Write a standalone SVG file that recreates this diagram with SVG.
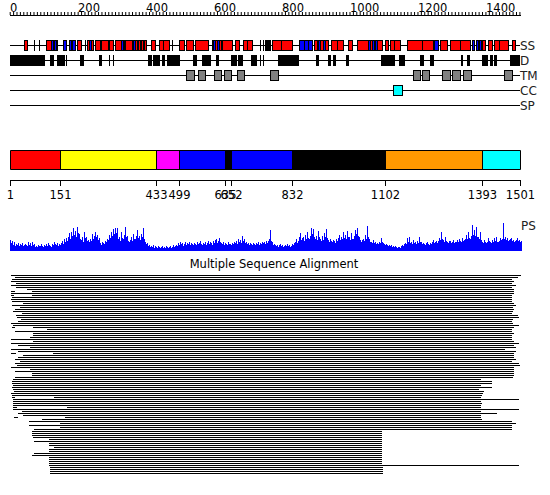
<svg xmlns="http://www.w3.org/2000/svg" width="550" height="495" viewBox="0 0 550 495">
<style>
text{font-family:"DejaVu Sans","Liberation Sans",sans-serif;font-size:11.5px;fill:#000}
.tl{font-size:12px;fill:#222}
.r{fill:#f00;stroke:#000;stroke-width:1}
.b{fill:#00f;stroke:#000;stroke-width:1}
.k{fill:#000;stroke:#000;stroke-width:1}
.g{fill:#808080;stroke:#000;stroke-width:1}
.ln{stroke:#000;stroke-width:1;fill:none}
</style>
<rect width="550" height="495" fill="#fff"/>
<g id="ruler">
<path class="ln" d="M10 15.5H521"/>
<path d="M9.7 13.5H521" stroke="#000" stroke-width="3" stroke-dasharray="1 2.398"/>
<text x="10" y="12">0</text>
<text x="78" y="12">200</text>
<text x="146" y="12">400</text>
<text x="214" y="12">600</text>
<text x="282" y="12">800</text>
<text x="350" y="12">1000</text>
<text x="418" y="12">1200</text>
<text x="486" y="12">1400</text>
</g>
<g id="tracks">
<path class="ln" d="M10 45.5H520M10 60.5H520M10 75.5H520M10 90.5H520M10 105.5H520"/>
<text class="tl" x="520" y="50">SS</text>
<text class="tl" x="520" y="65">D</text>
<text class="tl" x="520" y="80">TM</text>
<text class="tl" x="520" y="95">CC</text>
<text class="tl" x="520" y="110">SP</text>
</g>
<g id="ss">
<rect class="r" x="24.5" y="40.5" width="3" height="10"/>
<rect class="r" x="46.5" y="40.5" width="11" height="10"/>
<rect class="r" x="77.5" y="40.5" width="4" height="10"/>
<rect class="r" x="87.5" y="40.5" width="6" height="10"/>
<rect class="r" x="95.5" y="40.5" width="5" height="10"/>
<rect class="r" x="101.5" y="40.5" width="7" height="10"/>
<rect class="r" x="109.5" y="40.5" width="4" height="10"/>
<rect class="r" x="115.5" y="40.5" width="9" height="10"/>
<rect class="r" x="125.5" y="40.5" width="7" height="10"/>
<rect class="r" x="132.5" y="40.5" width="14" height="10"/>
<rect class="r" x="151.5" y="40.5" width="4" height="10"/>
<rect class="r" x="159.5" y="40.5" width="10" height="10"/>
<rect class="r" x="179.5" y="40.5" width="5" height="10"/>
<rect class="r" x="186.5" y="40.5" width="7" height="10"/>
<rect class="r" x="195.5" y="40.5" width="13" height="10"/>
<rect class="r" x="212.5" y="40.5" width="9" height="10"/>
<rect class="r" x="222.5" y="40.5" width="10" height="10"/>
<rect class="r" x="235.5" y="40.5" width="4" height="10"/>
<rect class="r" x="243.5" y="40.5" width="9" height="10"/>
<rect class="k" x="265.5" y="40.5" width="5" height="10"/>
<rect class="r" x="272.5" y="40.5" width="20" height="10"/>
<rect class="r" x="314.5" y="40.5" width="3" height="10"/>
<rect class="r" x="318.5" y="40.5" width="10" height="10"/>
<rect class="r" x="331.5" y="40.5" width="12" height="10"/>
<rect class="r" x="348.5" y="40.5" width="4" height="10"/>
<rect class="r" x="357.5" y="40.5" width="25" height="10"/>
<rect class="r" x="385.5" y="40.5" width="3" height="10"/>
<rect class="r" x="390.5" y="40.5" width="10" height="10"/>
<rect class="r" x="407.5" y="40.5" width="15" height="10"/>
<rect class="r" x="422.5" y="40.5" width="11" height="10"/>
<rect class="r" x="440.5" y="40.5" width="7" height="10"/>
<rect class="r" x="450.5" y="40.5" width="20" height="10"/>
<rect class="r" x="482.5" y="40.5" width="3" height="10"/>
<rect class="r" x="488.5" y="40.5" width="4" height="10"/>
<rect class="r" x="494.5" y="40.5" width="14" height="10"/>
<rect class="r" x="512.5" y="40.5" width="3" height="10"/>
<rect class="b" x="51.5" y="40.5" width="2" height="10"/>
<rect class="b" x="54.5" y="40.5" width="2" height="10"/>
<rect class="b" x="63.5" y="40.5" width="3" height="10"/>
<rect class="b" x="69.5" y="40.5" width="2" height="10"/>
<rect class="b" x="72.5" y="40.5" width="3" height="10"/>
<rect class="b" x="89.5" y="40.5" width="2" height="10"/>
<rect class="b" x="121.5" y="40.5" width="2" height="10"/>
<rect class="b" x="133.5" y="40.5" width="2" height="10"/>
<rect class="b" x="137.5" y="40.5" width="1" height="10"/>
<rect class="b" x="140.5" y="40.5" width="1" height="10"/>
<rect class="b" x="213.5" y="40.5" width="2" height="10"/>
<rect class="b" x="217.5" y="40.5" width="2" height="10"/>
<rect class="b" x="299.5" y="40.5" width="5" height="10"/>
<rect class="b" x="304.5" y="40.5" width="4" height="10"/>
<rect class="b" x="308.5" y="40.5" width="4" height="10"/>
<rect class="b" x="318.5" y="40.5" width="2" height="10"/>
<rect class="b" x="323.5" y="40.5" width="2" height="10"/>
<rect class="b" x="368.5" y="40.5" width="2" height="10"/>
<rect class="b" x="372.5" y="40.5" width="2" height="10"/>
<rect class="b" x="375.5" y="40.5" width="2" height="10"/>
<rect class="b" x="434.5" y="40.5" width="4" height="10"/>
<rect class="b" x="472.5" y="40.5" width="2" height="10"/>
<rect class="b" x="476.5" y="40.5" width="2" height="10"/>
<rect class="b" x="479.5" y="40.5" width="2" height="10"/>
<path class="ln" d="M34.5 40V51M39.5 40V51M85.5 40V51M172.5 40V51M260.5 40V51M263.5 40V51M143.5 40V51M144.5 40V51M163.5 40V51M247.5 40V51M281.5 40V51M337.5 40V51M394.5 40V51M460.5 40V51M499.5 40V51"/>
</g>
<g id="d">
<rect class="k" x="10.5" y="55.5" width="16" height="10"/>
<rect class="k" x="27.5" y="55.5" width="17" height="10"/>
<rect class="k" x="50.5" y="55.5" width="3" height="10"/>
<rect class="k" x="57.5" y="55.5" width="7" height="10"/>
<rect class="k" x="80.5" y="55.5" width="3" height="10"/>
<rect class="k" x="99.5" y="55.5" width="2" height="10"/>
<rect class="k" x="148.5" y="55.5" width="3" height="10"/>
<rect class="k" x="153.5" y="55.5" width="6" height="10"/>
<rect class="k" x="162.5" y="55.5" width="2" height="10"/>
<rect class="k" x="167.5" y="55.5" width="12" height="10"/>
<rect class="k" x="193.5" y="55.5" width="3" height="10"/>
<rect class="k" x="202.5" y="55.5" width="5" height="10"/>
<rect class="k" x="208.5" y="55.5" width="2" height="10"/>
<rect class="k" x="216.5" y="55.5" width="2" height="10"/>
<rect class="k" x="231.5" y="55.5" width="5" height="10"/>
<rect class="k" x="238.5" y="55.5" width="4" height="10"/>
<rect class="k" x="251.5" y="55.5" width="5" height="10"/>
<rect class="k" x="278.5" y="55.5" width="20" height="10"/>
<rect class="k" x="316.5" y="55.5" width="2" height="10"/>
<rect class="k" x="328.5" y="55.5" width="2" height="10"/>
<rect class="k" x="333.5" y="55.5" width="2" height="10"/>
<rect class="k" x="346.5" y="55.5" width="2" height="10"/>
<rect class="k" x="381.5" y="55.5" width="13" height="10"/>
<rect class="k" x="399.5" y="55.5" width="5" height="10"/>
<rect class="k" x="420.5" y="55.5" width="3" height="10"/>
<rect class="k" x="430.5" y="55.5" width="3" height="10"/>
<rect class="k" x="461.5" y="55.5" width="1" height="10"/>
<rect class="k" x="467.5" y="55.5" width="2" height="10"/>
<rect class="k" x="482.5" y="55.5" width="5" height="10"/>
<rect class="k" x="490.5" y="55.5" width="2" height="10"/>
<rect class="k" x="494.5" y="55.5" width="2" height="10"/>
<rect class="k" x="510.5" y="55.5" width="9" height="10"/>
<path class="ln" d="M66.5 55V66M109.5 55V66M113.5 55V66M260.5 55V66M263.5 55V66"/>
</g>
<g id="tm">
<rect class="g" x="186.5" y="70.5" width="8" height="10"/>
<rect class="g" x="198.5" y="70.5" width="7" height="10"/>
<rect class="g" x="214.5" y="70.5" width="7" height="10"/>
<rect class="g" x="224.5" y="70.5" width="7" height="10"/>
<rect class="g" x="237.5" y="70.5" width="7" height="10"/>
<rect class="g" x="270.5" y="70.5" width="8" height="10"/>
<rect class="g" x="413.5" y="70.5" width="7" height="10"/>
<rect class="g" x="422.5" y="70.5" width="7" height="10"/>
<rect class="g" x="442.5" y="70.5" width="8" height="10"/>
<rect class="g" x="452.5" y="70.5" width="8" height="10"/>
<rect class="g" x="463.5" y="70.5" width="8" height="10"/>
<rect class="g" x="504.5" y="70.5" width="8" height="10"/>
</g>
<g id="cc">
<rect x="393.5" y="85.5" width="9" height="10" fill="#0ff" stroke="#000"/>
</g>
<g id="domains">
<rect x="10.5" y="150.5" width="50" height="19" fill="#f00"/>
<rect x="60.5" y="150.5" width="96" height="19" fill="#ff0"/>
<rect x="156.5" y="150.5" width="23" height="19" fill="#f0f"/>
<rect x="179.5" y="150.5" width="46" height="19" fill="#00f"/>
<rect x="225.5" y="150.5" width="6" height="19" fill="#000"/>
<rect x="231.5" y="150.5" width="61" height="19" fill="#00f"/>
<rect x="292.5" y="150.5" width="93" height="19" fill="#000"/>
<rect x="385.5" y="150.5" width="97" height="19" fill="#f90"/>
<rect x="482.5" y="150.5" width="38" height="19" fill="#0ff"/>
<path class="ln" d="M10.5 150.5H520.5V169.5H10.5ZM60.5 150V170M156.5 150V170M179.5 150V170M225.5 150V170M231.5 150V170M292.5 150V170M385.5 150V170M482.5 150V170"/>
<path class="ln" d="M10 180.5H521M10.5 180V186M60.5 180V186M156.5 180V186M179.5 180V186M225.5 180V186M231.5 180V186M292.5 180V186M385.5 180V186M482.5 180V186M520.5 180V186"/>
<g text-anchor="middle">
<text x="10.5" y="199">1</text>
<text x="60.5" y="199">151</text>
<text x="156.5" y="199">433</text>
<text x="179.5" y="199">499</text>
<text x="225.5" y="199">635</text>
<text x="231.5" y="199">652</text>
<text x="292.5" y="199">832</text>
<text x="385.5" y="199">1102</text>
<text x="482.5" y="199">1393</text>
<text x="520.5" y="199">1501</text>
</g>
</g>
<g id="ps">
<path fill="#00f" d="M10 251V240h1V243h1V241h1V245h1V242h1V246h1V244h1V245h1V243h1V246h1V244h1V245h1V243h1V246h1V245h1V244h1V245h1V246h1V242h1V245h1V243h1V246h1V242h1V245h1V244h1V247h1V246h1V247h1V245h1V246h1V246h1V244h1V246h1V247h1V245h1V246h1V244h1V246h1V243h1V245h1V246h1V247h1V244h1V245h1V242h1V244h1V245h1V243h1V246h1V244h1V245h1V243h1V241h1V244h1V239h1V242h1V238h1V241h1V237h1V233h1V239h1V232h1V236h1V228h1V235h1V231h1V237h1V227h1V233h1V234h1V239h1V240h1V237h1V242h1V232h1V238h1V237h1V241h1V240h1V242h1V239h1V241h1V234h1V239h1V236h1V232h1V237h1V235h1V240h1V238h1V243h1V245h1V242h1V243h1V244h1V241h1V242h1V239h1V240h1V235h1V238h1V232h1V236h1V229h1V234h1V228h1V233h1V228h1V239h1V237h1V241h1V232h1V238h1V239h1V235h1V227h1V237h1V236h1V241h1V242h1V240h1V237h1V241h1V234h1V239h1V239h1V236h1V230h1V238h1V236h1V240h1V234h1V237h1V228h1V239h1V242h1V244h1V243h1V246h1V245h1V247h1V246h1V247h1V245h1V248h1V246h1V247h1V248h1V246h1V247h1V248h1V247h1V246h1V248h1V247h1V248h1V246h1V247h1V248h1V247h1V246h1V248h1V247h1V245h1V247h1V246h1V245h1V246h1V243h1V245h1V242h1V244h1V243h1V246h1V244h1V242h1V245h1V243h1V244h1V242h1V245h1V243h1V244h1V245h1V243h1V244h1V245h1V242h1V244h1V243h1V241h1V244h1V245h1V243h1V244h1V242h1V245h1V243h1V241h1V244h1V242h1V243h1V245h1V241h1V243h1V240h1V239h1V243h1V241h1V238h1V242h1V243h1V244h1V242h1V245h1V243h1V244h1V245h1V242h1V244h1V244h1V245h1V243h1V244h1V242h1V243h1V241h1V244h1V239h1V242h1V240h1V243h1V236h1V241h1V239h1V243h1V242h1V244h1V243h1V245h1V243h1V244h1V245h1V243h1V244h1V245h1V243h1V244h1V242h1V245h1V243h1V244h1V242h1V243h1V242h1V244h1V241h1V243h1V241h1V239h1V230h1V241h1V242h1V245h1V244h1V245h1V246h1V245h1V247h1V245h1V244h1V246h1V245h1V247h1V246h1V245h1V246h1V244h1V246h1V245h1V247h1V246h1V244h1V245h1V243h1V242h1V239h1V243h1V241h1V237h1V233h1V240h1V238h1V237h1V241h1V235h1V239h1V232h1V238h1V239h1V236h1V228h1V234h1V229h1V237h1V239h1V236h1V240h1V231h1V237h1V239h1V241h1V236h1V240h1V233h1V237h1V229h1V238h1V240h1V242h1V239h1V241h1V242h1V240h1V241h1V243h1V239h1V241h1V238h1V235h1V240h1V237h1V239h1V232h1V238h1V235h1V239h1V231h1V237h1V237h1V240h1V233h1V239h1V239h1V236h1V230h1V234h1V228h1V236h1V237h1V240h1V242h1V240h1V239h1V241h1V235h1V239h1V226h1V237h1V239h1V242h1V242h1V243h1V240h1V243h1V242h1V244h1V243h1V244h1V242h1V243h1V238h1V242h1V243h1V244h1V245h1V244h1V245h1V246h1V245h1V246h1V245h1V247h1V246h1V247h1V246h1V247h1V248h1V247h1V247h1V248h1V246h1V245h1V246h1V244h1V243h1V244h1V238h1V242h1V237h1V243h1V242h1V244h1V240h1V243h1V242h1V244h1V241h1V243h1V237h1V242h1V242h1V244h1V243h1V244h1V245h1V243h1V242h1V244h1V245h1V243h1V244h1V242h1V240h1V243h1V242h1V241h1V243h1V241h1V238h1V240h1V232h1V239h1V240h1V242h1V237h1V241h1V242h1V243h1V241h1V241h1V243h1V242h1V240h1V243h1V242h1V242h1V240h1V242h1V239h1V241h1V242h1V238h1V241h1V240h1V239h1V235h1V239h1V232h1V238h1V239h1V236h1V225h1V235h1V230h1V236h1V227h1V237h1V237h1V239h1V232h1V240h1V242h1V243h1V240h1V242h1V243h1V242h1V238h1V241h1V242h1V243h1V240h1V242h1V238h1V241h1V237h1V242h1V242h1V241h1V238h1V240h1V239h1V223h1V239h1V237h1V240h1V238h1V241h1V240h1V239h1V238h1V241h1V240h1V242h1V241h1V240h1V238h1V241h1V240h1V242h1V241h1V251Z"/>
<text class="tl" x="521" y="230">PS</text>
</g>
<g id="msa">
<text x="274" y="268" text-anchor="middle">Multiple Sequence Alignment</text>
<path stroke="#000" stroke-width="1" shape-rendering="crispEdges" fill="none" d="M11 275.5H521M15 277.5H518M12 279.5H512M11 281.5H514M16 283.5H512M11 285.5H516M16 287.5H512M27 289.5H514M32 291.5H514M11 293.5H514M32 295.5H512M12 297.5H512M11 299.5H512M12 301.5H512M23 303.5H514M12 305.5H516M20 307.5H513M15 309.5H514M13 311.5H513M22 313.5H512M16 315.5H518M17 317.5H519M21 319.5H513M18 321.5H512M11 323.5H513M13 325.5H519M33 327.5H514M47 329.5H512M15 331.5H512M33 333.5H514M33 335.5H512M30 337.5H512M11 339.5H512M33 341.5H514M11 343.5H519M18 345.5H514M30 347.5H516M11 349.5H505M18 351.5H516M53 353.5H514M23 355.5H514M18 357.5H514M15 359.5H516M20 361.5H512M15 363.5H519M17 365.5H520M11 367.5H514M30 369.5H514M15 371.5H514M32 373.5H514M32 375.5H514M15 377.5H513M13 379.5H481M12 381.5H492M12 383.5H492M13 385.5H481M12 387.5H492M13 389.5H479M14 391.5H484M11 393.5H483M12 395.5H482M54 397.5H481M13 399.5H519M13 401.5H481M13 403.5H482M13 405.5H481M67 407.5H481M13 409.5H519M22 411.5H481M18 413.5H497M23 415.5H481M65 417.5H481M42 419.5H482M29 421.5H512M60 423.5H516M29 425.5H512M60 427.5H512M34 429.5H512M32 431.5H382M32 433.5H382M32 435.5H382M33 437.5H382M49 439.5H382M34 441.5H382M49 443.5H382M49 445.5H382M54 447.5H382M49 449.5H382M49 451.5H382M34 453.5H382M32 455.5H382M49 457.5H382M49 459.5H382M49 461.5H382M49 463.5H382M49 465.5H519M50 467.5H383M50 469.5H383M50 471.5H383M50 473.5H383M11 291.5H15M11 295.5H14M12 327.5H15M11 353.5H16M12 397.5H15M13 407.5H17M14 417.5H18"/>
</g>
</svg>
